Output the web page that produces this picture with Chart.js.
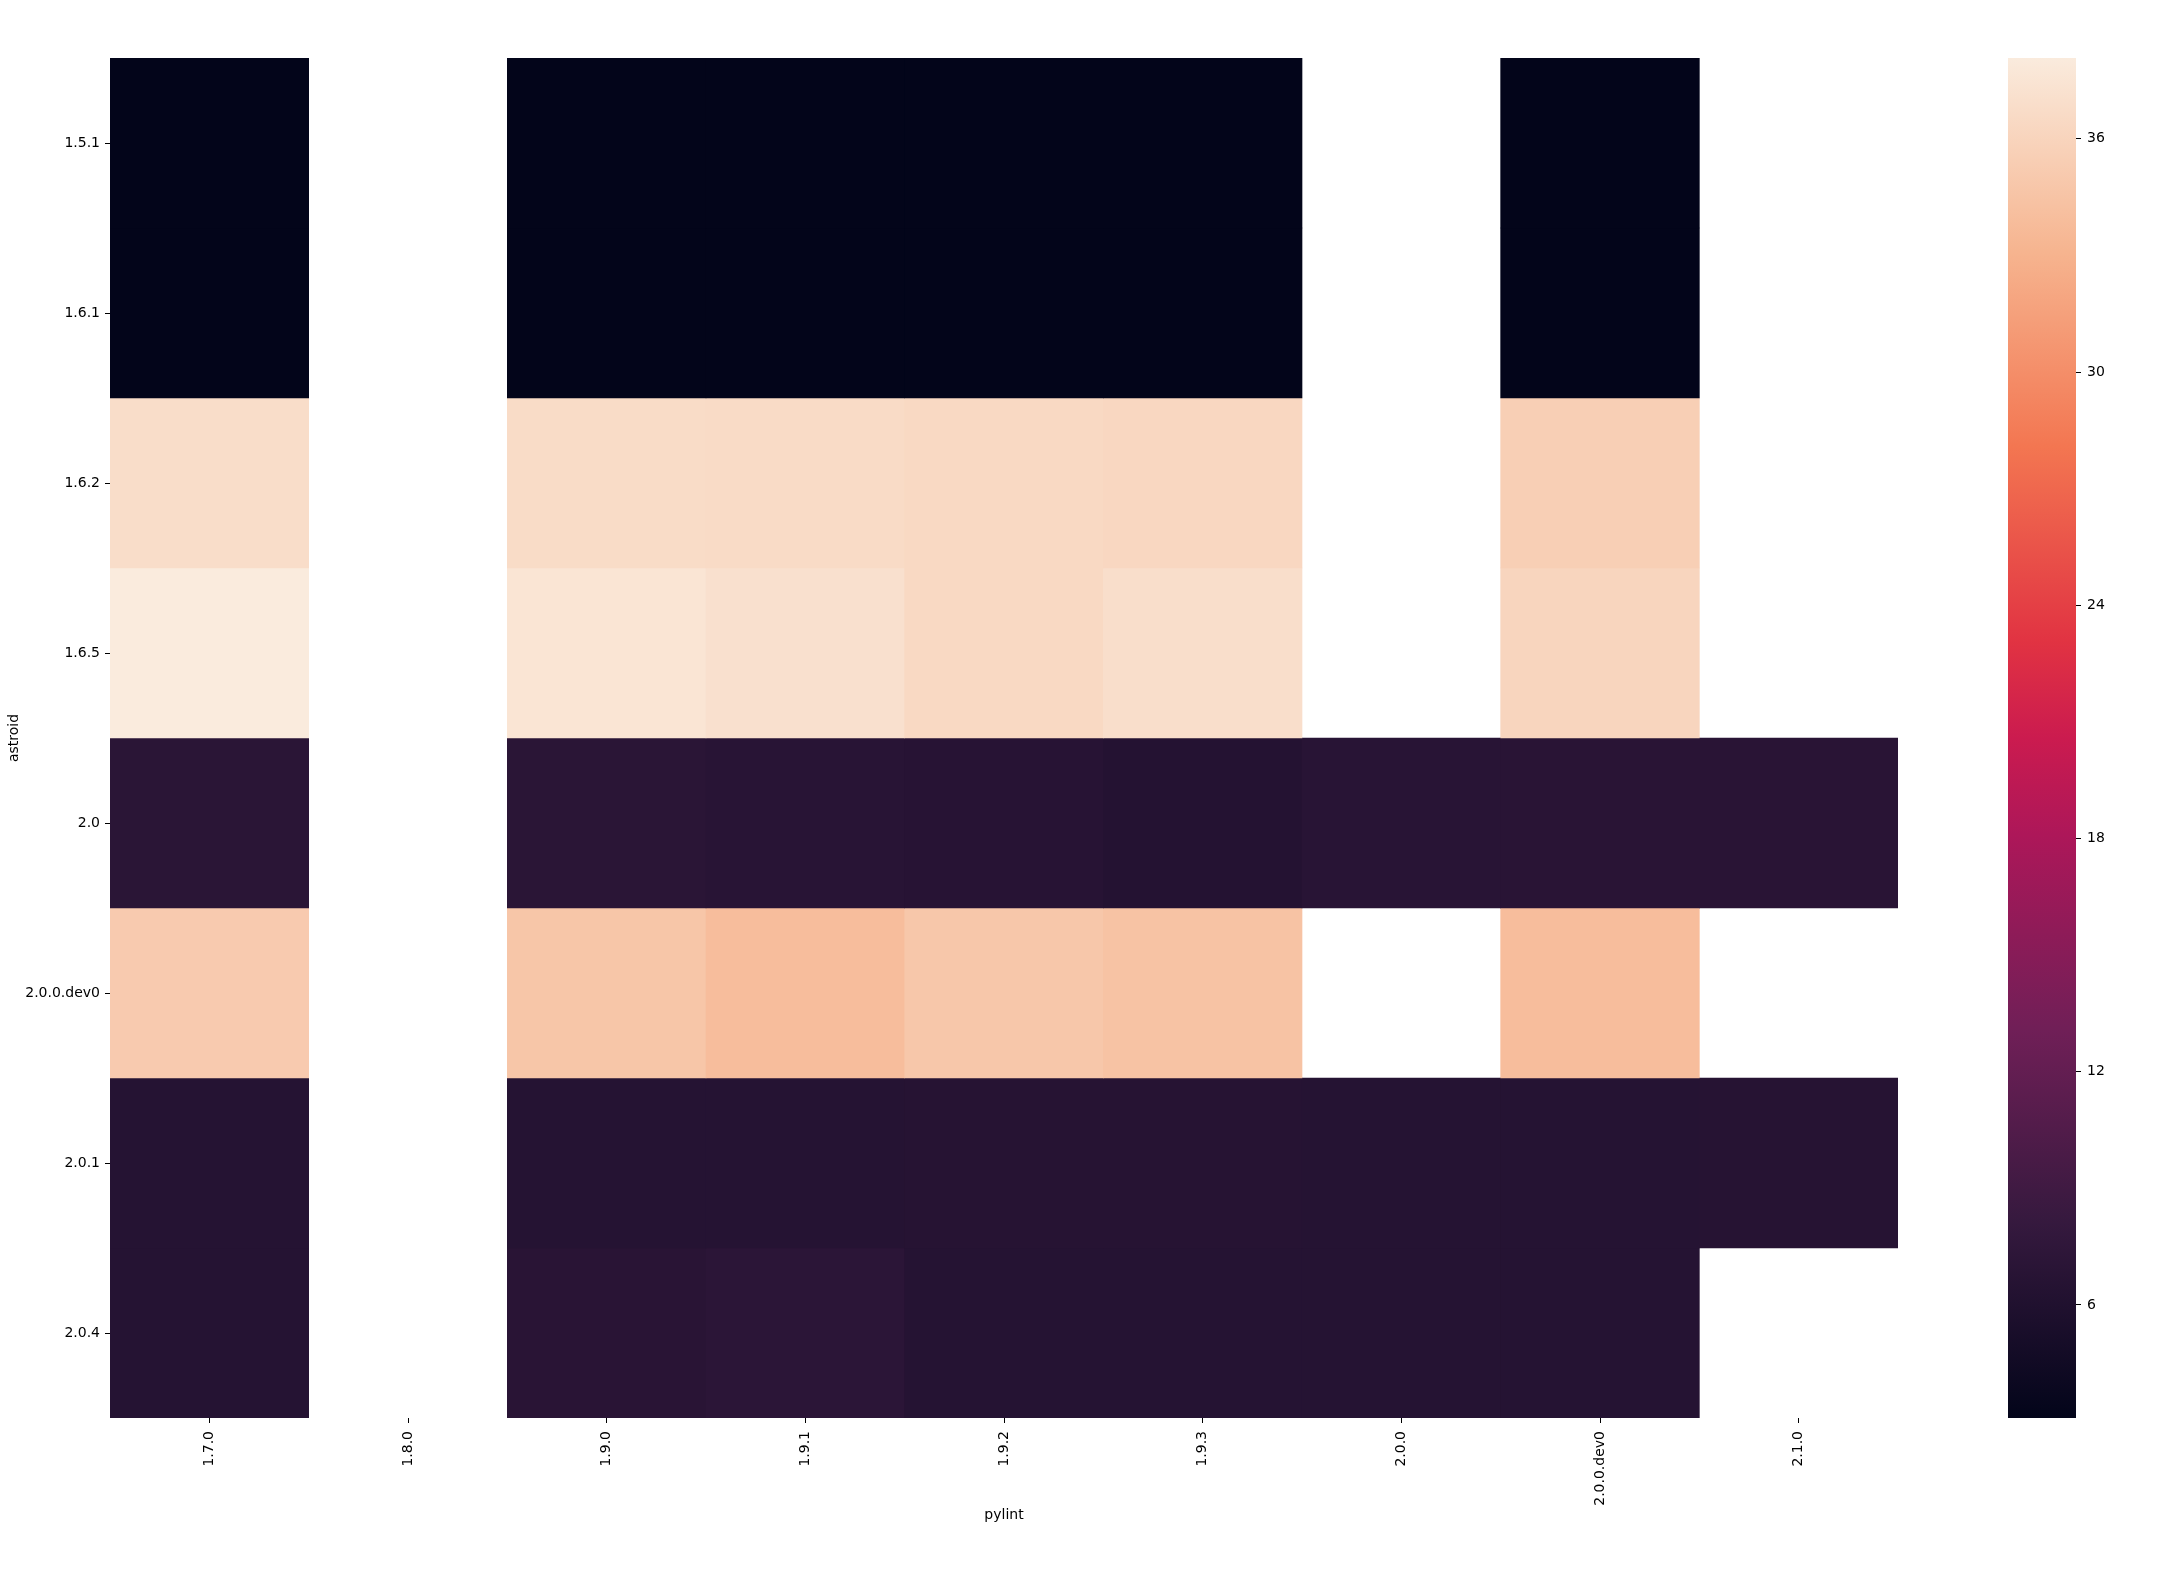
<!DOCTYPE html>
<html>
<head>
<meta charset="utf-8">
<script src="https://cdn.jsdelivr.net/npm/chart.js@4.4.1/dist/chart.umd.min.js"></script>
<style>
  html, body { margin: 0; padding: 0; background: #fff; }
  #wrap { position: relative; width: 2159px; height: 1569px; }
  #heat { position: absolute; left: 0; top: 0; }
  #cbar { position: absolute; left: 1960px; top: 0; }
</style>
</head>
<body>
<div id="wrap">
  <canvas id="heat" width="1960" height="1569"></canvas>
  <canvas id="cbar" width="199" height="1569"></canvas>
</div>
<script>
// pylint versions (columns) and astroid versions (rows)
const pylintVersions = ['1.7.0', '1.8.0', '1.9.0', '1.9.1', '1.9.2', '1.9.3', '2.0.0', '2.0.0.dev0', '2.1.0'];
const astroidVersions = ['1.5.1', '1.6.1', '1.6.2', '1.6.5', '2.0', '2.0.0.dev0', '2.0.1', '2.0.4'];

// one array per astroid row, null = no result
const astroid151 = [3.09, null, 3.09, 3.09, 3.09, 3.09, null, 3.09, null];
const astroid161 = [3.09, null, 3.09, 3.09, 3.09, 3.09, null, 3.09, null];
const astroid162 = [36.8, null, 36.7, 36.6, 36.4, 36.3, null, 35.5, null];
const astroid165 = [38.08, null, 37.5, 37.1, 36.4, 36.9, null, 36.1, null];
const astroid20 = [7.0, null, 7.0, 6.8, 6.7, 6.4, 6.8, 6.9, 6.9];
const astroid200dev0 = [35.1, null, 34.7, 33.9, 34.8, 34.4, null, 33.9, null];
const astroid201 = [6.5, null, 6.5, 6.5, 6.6, 6.6, 6.5, 6.5, 6.6];
const astroid204 = [6.5, null, 6.9, 7.1, 6.5, 6.5, 6.5, 6.5, null];

const rowValues = [astroid151, astroid161, astroid162, astroid165, astroid20, astroid200dev0, astroid201, astroid204];
const colorbarTicks = [6, 12, 18, 24, 30, 36];

const allVals = rowValues.flat().filter(v => v !== null);
const vmin = Math.min(...allVals);
const vmax = Math.max(...allVals);

// seaborn "rocket" colormap, approximated by stops
const rocketStops = [
  [0.000, [3, 5, 26]],
  [0.143, [53, 25, 62]],
  [0.286, [112, 31, 87]],
  [0.429, [173, 23, 89]],
  [0.500, [203, 27, 79]],
  [0.571, [225, 51, 66]],
  [0.714, [243, 118, 81]],
  [0.857, [246, 180, 143]],
  [1.000, [250, 235, 221]]
];

function rocket(t) {
  t = Math.max(0, Math.min(1, t));
  for (let i = 1; i < rocketStops.length; i++) {
    const [t1, c1] = rocketStops[i];
    const [t0, c0] = rocketStops[i - 1];
    if (t <= t1) {
      const f = (t - t0) / (t1 - t0);
      const c = c0.map((v, k) => Math.round(v + (c1[k] - v) * f));
      return 'rgb(' + c.join(',') + ')';
    }
  }
  return 'rgb(250,235,221)';
}

function colorFor(v) {
  return rocket((v - vmin) / (vmax - vmin));
}

const font = { family: 'DejaVu Sans', size: 14 };

const datasets = rowValues.map((row, i) => ({
  label: astroidVersions[i],
  data: row.map(v => v === null ? null : [i, i + 1]),
  backgroundColor: row.map(v => v === null ? 'rgba(0,0,0,0)' : colorFor(v)),
  borderWidth: 0,
  barPercentage: 1,
  categoryPercentage: 1,
  grouped: false
}));

const heat = new Chart(document.getElementById('heat'), {
  type: 'bar',
  data: { labels: pylintVersions, datasets: datasets },
  options: {
    responsive: false,
    animation: false,
    layout: { padding: { left: 0, top: 58, right: 62, bottom: 0 } },
    plugins: { legend: { display: false }, tooltip: { enabled: false } },
    scales: {
      x: {
        type: 'category',
        border: { display: false },
        grid: { offset: false, drawOnChartArea: false, drawTicks: true, tickLength: 5, tickColor: '#000', lineWidth: 1 },
        ticks: { autoSkip: false, maxRotation: 90, minRotation: 90, padding: 8, color: '#000', font: font },
        title: { display: true, text: 'pylint', color: '#000', font: font, padding: { top: 0, bottom: 45 } },
        afterFit: (scale) => { scale.height = 151; }
      },
      y: {
        type: 'linear',
        min: 0,
        max: astroidVersions.length,
        reverse: true,
        border: { display: false },
        grid: { drawOnChartArea: false, drawTicks: true, tickLength: 5, tickColor: '#000', lineWidth: 1 },
        ticks: {
          padding: 5,
          color: '#000',
          font: font,
          callback: (v) => astroidVersions[Math.round(v - 0.5)]
        },
        afterBuildTicks: (axis) => {
          axis.ticks = astroidVersions.map((_, i) => ({ value: i + 0.5 }));
        },
        title: { display: true, text: 'astroid', color: '#000', font: font, padding: { top: 6, bottom: 0 } },
        afterFit: (scale) => { scale.width = 110; }
      }
    }
  }
});

const cbar = new Chart(document.getElementById('cbar'), {
  type: 'bar',
  data: {
    labels: ['cbar'],
    datasets: [{
      data: [[vmin, vmax]],
      backgroundColor: (ctx) => {
        const area = ctx.chart.chartArea;
        if (!area) return null;
        const g = ctx.chart.ctx.createLinearGradient(0, area.bottom, 0, area.top);
        rocketStops.forEach(([t, c]) => g.addColorStop(t, 'rgb(' + c.join(',') + ')'));
        return g;
      },
      borderWidth: 0,
      barPercentage: 1,
      categoryPercentage: 1
    }]
  },
  options: {
    responsive: false,
    animation: false,
    layout: { padding: { left: 48, top: 58, right: 0, bottom: 151 } },
    plugins: { legend: { display: false }, tooltip: { enabled: false } },
    scales: {
      x: { display: false },
      y: {
        position: 'right',
        min: vmin,
        max: vmax,
        border: { display: false },
        grid: { drawOnChartArea: false, drawTicks: true, tickLength: 5, tickColor: '#000' },
        ticks: { padding: 6, color: '#000', font: font },
        afterBuildTicks: (axis) => {
          axis.ticks = colorbarTicks.map(v => ({ value: v }));
        },
        afterFit: (scale) => { scale.width = 83; }
      }
    }
  }
});
</script>
</body>
</html>
